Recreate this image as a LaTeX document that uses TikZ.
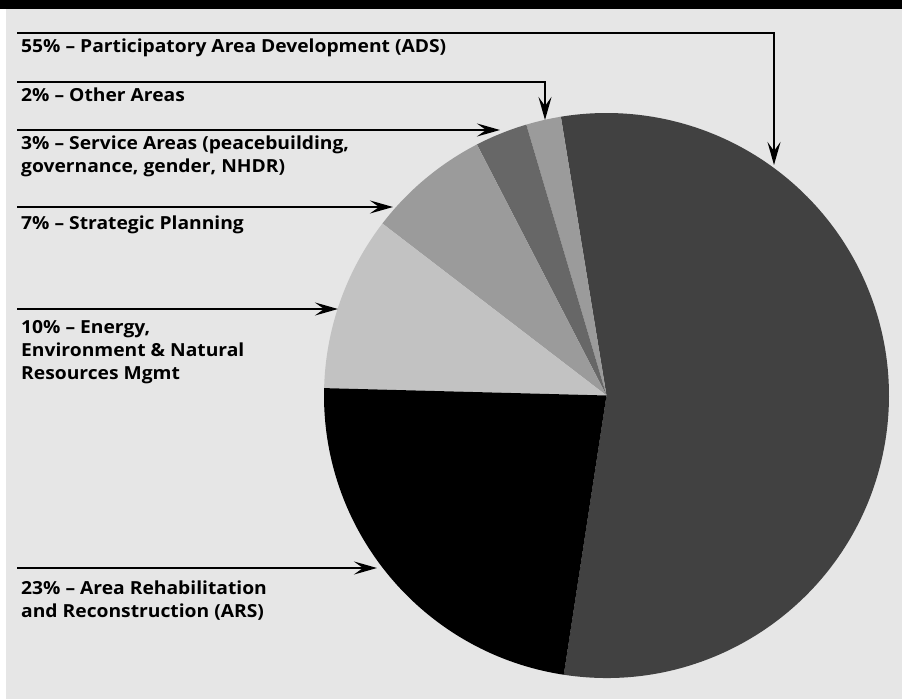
\documentclass[tikz,border=0pt]{standalone}
\usepackage{fontspec}
\setmainfont[FakeStretch=1.07]{Open Sans}
\usetikzlibrary{arrows.meta}
\definecolor{bggray}{HTML}{E6E6E6}
\definecolor{sdark}{HTML}{414141}
\definecolor{smid}{HTML}{676767}
\definecolor{slight}{HTML}{9B9B9B}
\definecolor{spale}{HTML}{C2C2C2}
\tikzset{
  lbl/.style={anchor=base west, inner sep=0pt, align=left,
    font=\fontsize{18}{23}\selectfont\bfseries, text=black},
  pointer/.style={draw=black, line width=2.2pt,
    -{Stealth[length=23pt,width=13pt,inset=9pt]}},
}
\begin{document}
\begin{tikzpicture}[x=1pt,y=-1pt]
\useasboundingbox (0,0) rectangle (902,700);
\fill[white] (0,0) rectangle (902,700);
\fill[bggray] (6,9) rectangle (902,699);
\fill[black] (0,0) rectangle (902,9);
% pie
\begin{scope}[shift={(606.5,395.5)}, x=1pt, y=1pt]
  \def\R{282.5}
  \fill[sdark] (0,0) -- (-98.7:\R) arc[start angle=-98.7, end angle=99.3, radius=\R] -- cycle;
  \fill[slight] (0,0) -- (99.3:\R) arc[start angle=99.3, end angle=106.5, radius=\R] -- cycle;
  \fill[smid] (0,0) -- (106.5:\R) arc[start angle=106.5, end angle=117.3, radius=\R] -- cycle;
  \fill[slight] (0,0) -- (117.3:\R) arc[start angle=117.3, end angle=142.5, radius=\R] -- cycle;
  \fill[spale] (0,0) -- (142.5:\R) arc[start angle=142.5, end angle=178.5, radius=\R] -- cycle;
  \fill[black] (0,0) -- (178.5:\R) arc[start angle=178.5, end angle=261.3, radius=\R] -- cycle;
\end{scope}
% labels (base anchor = baseline of the last line)
\node[lbl] (l55) at (21,53) {55\% – Participatory Area Development (ADS)};
\node[lbl] (l2) at (21,101.5) {2\% – Other Areas};
\node[lbl] (l3) at (21,173) {3\% – Service Areas (peacebuilding,\\governance, gender, NHDR)};
\node[lbl] (l7) at (21,230) {7\% – Strategic Planning};
\node[lbl] (l10) at (21,380) {10\% – Energy,\\Environment \& Natural\\Resources Mgmt};
\node[lbl] (l23) at (21,617) {23\% – Area Rehabilitation\\and Reconstruction (ARS)};
% connector ends
\coordinate (s55) at (17,33);   \coordinate (t55) at (774,165);
\coordinate (s2) at (17,82);    \coordinate (t2) at (545,120);
\coordinate (s3) at (17,130);   \coordinate (t3) at (500,130);
\coordinate (s7) at (17,207);   \coordinate (t7) at (393,207);
\coordinate (s10) at (17,309);  \coordinate (t10) at (338,309);
\coordinate (s23) at (17,568);  \coordinate (t23) at (377,568);
\draw[pointer] (s55) -| (t55);
\draw[pointer] (s2) -| (t2);
\draw[pointer] (s3) -- (t3);
\draw[pointer] (s7) -- (t7);
\draw[pointer] (s10) -- (t10);
\draw[pointer] (s23) -- (t23);
\end{tikzpicture}
\end{document}
